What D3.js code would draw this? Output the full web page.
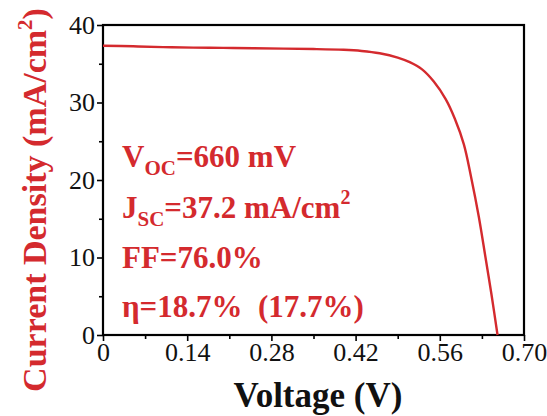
<!DOCTYPE html>
<html><head><meta charset="utf-8">
<script src="https://cdn.jsdelivr.net/npm/d3@7/dist/d3.min.js"></script>
<style>
  text, tspan { font-family: "Liberation Serif", "Tinos", "Times New Roman", serif !important; }
</style>
</head>
<body style="margin:0">
<svg id="chart" width="547" height="416"></svg>
<script>
// ---- data ----
const voltage = [0, 0.05, 0.10, 0.15, 0.20, 0.25, 0.30, 0.35, 0.40, 0.43, 0.46, 0.49, 0.51, 0.53, 0.55, 0.57, 0.585, 0.60, 0.612, 0.625, 0.636, 0.646, 0.656];
const currentDensity = [37.33, 37.25, 37.15, 37.08, 37.05, 37.0, 36.95, 36.9, 36.8, 36.65, 36.35, 35.8, 35.2, 34.3, 32.7, 30.4, 27.9, 24.6, 20.4, 15.2, 10.0, 5.2, 0];
const xTicks = [0, 0.14, 0.28, 0.42, 0.56, 0.70];
const xTickLabels = ["0", "0.14", "0.28", "0.42", "0.56", "0.70"];
const xMinor = [0.07, 0.21, 0.35, 0.49, 0.63];
const yTicks = [0, 10, 20, 30, 40];
const yMinor = [5, 15, 25, 35];
const annotations = [
  {main: "V", sub: "OC", rest: "=660 mV", sup: ""},
  {main: "J", sub: "SC", rest: "=37.2 mA/cm", sup: "2"},
  {main: "FF=76.0%", sub: "", rest: "", sup: ""},
  {main: "η=18.7%\u00a0\u00a0(17.7%)", sub: "", rest: "", sup: ""}
];

const red = "#d42a2e";
const svg = d3.select("#chart");
const m = {left: 103, right: 524, top: 25, bottom: 335};

const x = d3.scaleLinear().domain([0, 0.70]).range([m.left, m.right]);
const y = d3.scaleLinear().domain([0, 40]).range([m.bottom, m.top]);

const font = "Liberation Serif";

// minor ticks
svg.append("g").attr("transform", `translate(0,${m.bottom})`)
  .call(d3.axisBottom(x).tickValues(xMinor).tickSize(4).tickFormat(""))
  .call(g => g.select(".domain").remove())
  .call(g => g.selectAll("line").attr("stroke", "#000").attr("stroke-width", 1.6));
svg.append("g").attr("transform", `translate(${m.left},0)`)
  .call(d3.axisLeft(y).tickValues(yMinor).tickSize(4).tickFormat(""))
  .call(g => g.select(".domain").remove())
  .call(g => g.selectAll("line").attr("stroke", "#000").attr("stroke-width", 1.6));

// major axes
const xa = svg.append("g").attr("transform", `translate(0,${m.bottom})`)
  .call(d3.axisBottom(x).tickValues(xTicks).tickSize(6).tickPadding(2)
    .tickFormat((d, i) => xTickLabels[i]));
xa.attr("font-family", font).attr("font-size", 26);
xa.select(".domain").remove();
xa.selectAll("line").attr("stroke", "#000").attr("stroke-width", 1.6);
xa.selectAll("text").attr("fill", "#111");

const ya = svg.append("g").attr("transform", `translate(${m.left},0)`)
  .call(d3.axisLeft(y).tickValues(yTicks).tickSize(6).tickPadding(2));
ya.attr("font-family", font).attr("font-size", 26);
ya.select(".domain").remove();
ya.selectAll("line").attr("stroke", "#000").attr("stroke-width", 1.6);
ya.selectAll("text").attr("fill", "#111");

// frame
svg.append("rect")
  .attr("x", m.left).attr("y", m.top)
  .attr("width", m.right - m.left).attr("height", m.bottom - m.top)
  .attr("fill", "none").attr("stroke", "#000").attr("stroke-width", 2.2);

// curve
const pts = voltage.map((v, i) => [v, currentDensity[i]]);
svg.append("path")
  .datum(pts)
  .attr("fill", "none")
  .attr("stroke", red)
  .attr("stroke-width", 2.4)
  .attr("d", d3.line().x(d => x(d[0])).y(d => y(d[1])).curve(d3.curveCatmullRom.alpha(0.5)));

// axis titles
svg.append("text")
  .attr("x", 318).attr("y", 407)
  .attr("text-anchor", "middle")
  .attr("font-family", font).attr("font-weight", "bold").attr("font-size", 35)
  .attr("fill", "#111")
  .text("Voltage (V)");

const yt = svg.append("text")
  .attr("transform", "translate(46,200) rotate(-90)")
  .attr("text-anchor", "middle")
  .attr("font-family", font).attr("font-weight", "bold").attr("font-size", 34)
  .attr("fill", red);
yt.append("tspan").text("Current Density (mA/cm");
yt.append("tspan").attr("font-size", 21).attr("dy", -14).text("2");
yt.append("tspan").attr("dy", 14).text(")");

// annotations
const baselines = [167, 218, 268, 317];
annotations.forEach((a, i) => {
  const t = svg.append("text")
    .attr("x", 122).attr("y", baselines[i])
    .attr("font-family", font).attr("font-weight", "bold").attr("font-size", 31)
    .attr("fill", red);
  t.append("tspan").text(a.main);
  if (a.sub) t.append("tspan").attr("font-size", 21).attr("dy", 8).text(a.sub);
  if (a.rest) t.append("tspan").attr("dy", a.sub ? -8 : 0).text(a.rest);
  if (a.sup) t.append("tspan").attr("font-size", 20).attr("dy", -14).text(a.sup);
});
</script>
</body>
</html>
